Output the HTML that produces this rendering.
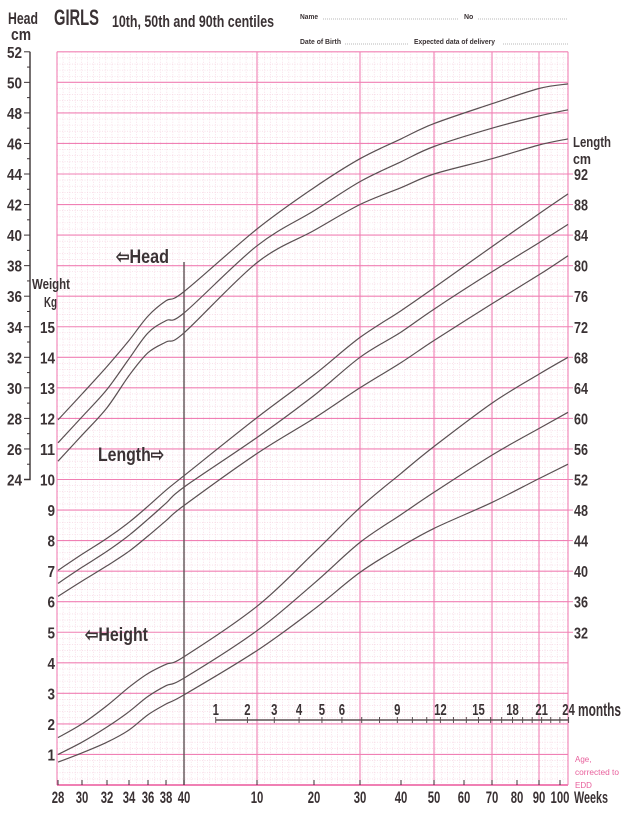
<!DOCTYPE html>
<html><head><meta charset="utf-8">
<style>
html,body{margin:0;padding:0;background:#fff;}
svg{display:block;font-family:"Liberation Sans",sans-serif;}
.lab{font-weight:bold;fill:#3a3234;}
</style></head>
<body>
<svg id="chart" width="627" height="814" viewBox="0 0 627 814" xmlns="http://www.w3.org/2000/svg">
<g id="grid"></g>
<g id="curves"></g>
<g id="axes"></g>
<g>
<text class="lab" x="8" y="24" font-size="17" textLength="30" lengthAdjust="spacingAndGlyphs">Head</text>
<text class="lab" x="11" y="40" font-size="17" textLength="20" lengthAdjust="spacingAndGlyphs">cm</text>
<text class="lab" x="54" y="25" font-size="22" textLength="45" lengthAdjust="spacingAndGlyphs">GIRLS</text>
<text class="lab" x="112" y="27" font-size="17" textLength="162" lengthAdjust="spacingAndGlyphs">10th, 50th and 90th centiles</text>
<text class="lab" x="300" y="19" font-size="7" textLength="18" lengthAdjust="spacingAndGlyphs">Name</text>
<line x1="323" y1="19" x2="458" y2="19" stroke="#777" stroke-width="0.6" stroke-dasharray="1,1"/>
<text class="lab" x="464" y="19" font-size="7">No</text>
<line x1="478" y1="19" x2="568" y2="19" stroke="#777" stroke-width="0.6" stroke-dasharray="1,1"/>
<text class="lab" x="300" y="44" font-size="7" textLength="41" lengthAdjust="spacingAndGlyphs">Date of Birth</text>
<line x1="345" y1="44" x2="408" y2="44" stroke="#777" stroke-width="0.6" stroke-dasharray="1,1"/>
<text class="lab" x="414" y="44" font-size="7" textLength="81" lengthAdjust="spacingAndGlyphs">Expected data of delivery</text>
<line x1="503" y1="44" x2="568" y2="44" stroke="#777" stroke-width="0.6" stroke-dasharray="1,1"/>
</g>
<g>
<text class="lab" x="116" y="263" font-size="19" textLength="53" lengthAdjust="spacingAndGlyphs">⇦Head</text>
<text class="lab" x="98" y="461" font-size="19" textLength="66" lengthAdjust="spacingAndGlyphs">Length⇨</text>
<text class="lab" x="85" y="641" font-size="19" textLength="63" lengthAdjust="spacingAndGlyphs">⇦Height</text>
<text class="lab" x="32" y="289" font-size="15" textLength="38" lengthAdjust="spacingAndGlyphs">Weight</text>
<text class="lab" x="44" y="307" font-size="15" textLength="13" lengthAdjust="spacingAndGlyphs">Kg</text>
<text class="lab" x="573" y="147" font-size="15" textLength="38" lengthAdjust="spacingAndGlyphs">Length</text>
<text class="lab" x="573" y="164" font-size="15" textLength="18" lengthAdjust="spacingAndGlyphs">cm</text>
<text class="lab" x="578" y="716" font-size="18" textLength="43" lengthAdjust="spacingAndGlyphs">months</text>
<text class="lab" x="574" y="803" font-size="17" textLength="34" lengthAdjust="spacingAndGlyphs">Weeks</text>
<text x="575" y="762" font-size="8" fill="#e8609c">Age,</text>
<text x="575" y="775" font-size="8" fill="#e8609c" textLength="44" lengthAdjust="spacingAndGlyphs">corrected to</text>
<text x="575" y="788" font-size="8" fill="#e8609c">EDD</text>
</g>
</svg>
<script>
// ---- data ----
var ageWeeks = [-12,-10,-8,-6,-4,-2,0,10,20,30,40,50,70,90,104];
var weight90 = [1.55,2.0,2.6,3.2,3.65,3.95,4.2,5.85,7.6,9.08,10.2,11.08,12.5,13.45,14.0];
var weight50 = [1.0,1.4,1.9,2.4,2.9,3.25,3.5,5.05,6.6,7.94,8.85,9.58,10.8,11.67,12.2];
var weight10 = [0.75,1.05,1.4,1.8,2.3,2.65,2.95,4.4,5.75,6.96,7.8,8.4,9.25,10.03,10.5];
var length90 = [40.1,42.2,44.3,46.4,48.5,50.6,52.5,60.1,65.7,70.6,74.1,77.1,82.5,86.8,89.4];
var length50 = [38.4,40.5,42.6,44.7,46.8,48.9,51.0,57.5,63.0,68.0,71.3,74.3,79.2,83.0,85.4];
var length10 = [36.7,38.7,40.7,42.6,44.6,46.6,48.6,55.4,60.0,64.0,67.3,70.2,75.0,78.8,81.3];
var head90 = [27.9,29.6,31.4,33.1,34.7,35.7,36.3,40.4,43.1,45.0,46.3,47.3,48.6,49.6,49.9];
var head50 = [26.4,28.1,29.9,31.9,33.6,34.4,34.9,39.3,41.6,43.5,44.8,45.8,47.0,47.8,48.2];
var head10 = [25.2,26.9,28.7,30.8,32.3,33.0,33.6,38.2,40.3,42.0,43.1,44.0,45.0,45.9,46.3];
var weekTickValues = [-12,-10,-8,-6,-4,-2,0,10,20,30,40,50,60,70,80,90,100];
var weekTickLabels = ["28","30","32","34","36","38","40","10","20","30","40","50","60","70","80","90","100"];
var monthTicks = [1,2,3,4,5,6,7,8,9,10,11,12,13,14,15,16,17,18,19,20,21,22,23,24];
var monthLabels = [1,2,3,4,5,6,9,12,15,18,21,24];
var weightTicks = [1,2,3,4,5,6,7,8,9,10,11,12,13,14,15];
var headTicks = [24,26,28,30,32,34,36,38,40,42,44,46,48,50,52];
var lengthTicks = [32,36,40,44,48,52,56,60,64,68,72,76,80,84,88,92];

// ---- axis functions ----
var knotW = [-12,-10,-8,-6,-4,-2,0,10,20,30,40,50,60,70,80,90,100,104];
var knotX = [58,82,107,129,148,166,184,257,314,360,401,434,464,492,517,539,560,568];
function xOf(w){
  for(var i=0;i<knotW.length-1;i++){
    if(w<=knotW[i+1]||i==knotW.length-2){
      var t=(w-knotW[i])/(knotW[i+1]-knotW[i]);
      return knotX[i]+t*(knotX[i+1]-knotX[i]);
    }
  }
}
var Y0=785, KG=30.55;
function yW(w){return Y0-w*KG;}
function yH(h){return yW((h-4)/2);}
function yL(l){return yW((l-12)/4);}
var NS="http://www.w3.org/2000/svg";
function mk(tag,attrs,parent){var e=document.createElementNS(NS,tag);for(var k in attrs)e.setAttribute(k,attrs[k]);parent.appendChild(e);return e;}

var grid=document.getElementById('grid');
var L=57,R=568,T=yW(24),B=Y0;
for(var w=0;w<=24.001;w+=0.2){
  var ln=mk('line',{x1:L,x2:R,y1:yW(w),y2:yW(w),stroke:'#f5cddd','stroke-width':0.6,'stroke-dasharray':'1,1.5'},grid);
  
  
}
for(var x=L;x<=R;x+=6.1){
  var lv=mk('line',{x1:x,x2:x,y1:T,y2:B,stroke:'#f5cddd','stroke-width':0.6,'stroke-dasharray':'1,1.5'},grid);
  
  
}
for(var w2=0;w2<=24;w2++){
  var mh=mk('line',{x1:L,x2:R,y1:yW(w2),y2:yW(w2),stroke:'#f080b4','stroke-width':1.1},grid);
  
  
}
[L,xOf(10),xOf(30),xOf(50),xOf(70),xOf(90),R].forEach(function(x){
  var mv=mk('line',{x1:x,x2:x,y1:T,y2:B,stroke:'#f080b4','stroke-width':1.1},grid);
  
  
});
var bl=mk('line',{x1:L,x2:R,y1:B,y2:B,stroke:'#f080b4','stroke-width':2},grid);



var curves=document.getElementById('curves');
function pathFor(vals,yf){
  var p=ageWeeks.map(function(a,i){return [xOf(a),yf(vals[i])];});
  var d='M'+p[0][0].toFixed(1)+','+p[0][1].toFixed(1);
  for(var i=0;i<p.length-1;i++){
    var p0=p[Math.max(0,i-1)],p1=p[i],p2=p[i+1],p3=p[Math.min(p.length-1,i+2)];
    var c1=[p1[0]+(p2[0]-p0[0])/6,p1[1]+(p2[1]-p0[1])/6];
    var c2=[p2[0]-(p3[0]-p1[0])/6,p2[1]-(p3[1]-p1[1])/6];
    d+=' C'+c1[0].toFixed(1)+','+c1[1].toFixed(1)+' '+c2[0].toFixed(1)+','+c2[1].toFixed(1)+' '+p2[0].toFixed(1)+','+p2[1].toFixed(1);
  }
  return d;
}
[[head90,yH,'head-90th'],[head50,yH,'head-50th'],[head10,yH,'head-10th'],
 [length90,yL,'length-90th'],[length50,yL,'length-50th'],[length10,yL,'length-10th'],
 [weight90,yW,'weight-90th'],[weight50,yW,'weight-50th'],[weight10,yW,'weight-10th']].forEach(function(s){
  var c=mk('path',{d:pathFor(s[0],s[1]),fill:'none',stroke:'#5a5052','stroke-width':1.2},curves);
  
  
});
var term=mk('line',{x1:xOf(0),x2:xOf(0),y1:262,y2:B,stroke:'#5e5456','stroke-width':1.4},curves);



var axes=document.getElementById('axes');
var ha=mk('path',{d:'M30,'+yH(52)+' V'+yH(24)+' H24',stroke:'#3a3234','stroke-width':1.4,fill:'none'},axes);


for(var h=25;h<=51;h+=2){
  var ht=mk('line',{x1:27,x2:30,y1:yH(h),y2:yH(h),stroke:'#3a3234','stroke-width':1},axes);
  
  
}
headTicks.forEach(function(h){
  var t=mk('line',{x1:24,x2:30,y1:yH(h),y2:yH(h),stroke:'#3a3234','stroke-width':1},axes);
  
  
  var tx=mk('text',{x:22,y:yH(h)+6,'font-size':16,'text-anchor':'end','class':'lab',textLength:15,lengthAdjust:'spacingAndGlyphs'},axes);
  tx.textContent=h;
  
  
});
weightTicks.forEach(function(w){
  var s=String(w);
  var tx=mk('text',{x:55,y:yW(w)+6,'font-size':16,'text-anchor':'end','class':'lab',textLength:s.length*7.5,lengthAdjust:'spacingAndGlyphs'},axes);
  tx.textContent=s;
  
  
});
lengthTicks.forEach(function(l){
  var t=mk('line',{x1:R,x2:R+5,y1:yL(l),y2:yL(l),stroke:'#f080b4','stroke-width':1},axes);
  
  
  var tx=mk('text',{x:574,y:yL(l)+6,'font-size':16,'class':'lab',textLength:14,lengthAdjust:'spacingAndGlyphs'},axes);
  tx.textContent=l;
  
  
});
weekTickValues.forEach(function(w,i){
  var t=mk('line',{x1:xOf(w),x2:xOf(w),y1:B-5,y2:B,stroke:'#3a3234','stroke-width':1},axes);
  
  
  var lbl=weekTickLabels[i];
  var tx=mk('text',{x:xOf(w),y:803,'font-size':17,'text-anchor':'middle','class':'lab',textLength:lbl.length*6.3,lengthAdjust:'spacingAndGlyphs'},axes);
  tx.textContent=lbl;
  
  
});
var MY=720, WPM=4.345;
var ml=mk('line',{x1:xOf(WPM),x2:xOf(24*WPM),y1:MY,y2:MY,stroke:'#5a5052','stroke-width':1.5},axes);


monthTicks.forEach(function(m){
  var t=mk('line',{x1:xOf(m*WPM),x2:xOf(m*WPM),y1:MY-3,y2:MY+3,stroke:'#5a5052','stroke-width':1},axes);
  
  
});
monthLabels.forEach(function(m){
  var s=String(m);
  var tx=mk('text',{x:xOf(m*WPM),y:715,'font-size':16,'text-anchor':'middle','class':'lab',textLength:s.length*6.3,lengthAdjust:'spacingAndGlyphs'},axes);
  tx.textContent=s;
  
  
});
</script>
</body></html>
